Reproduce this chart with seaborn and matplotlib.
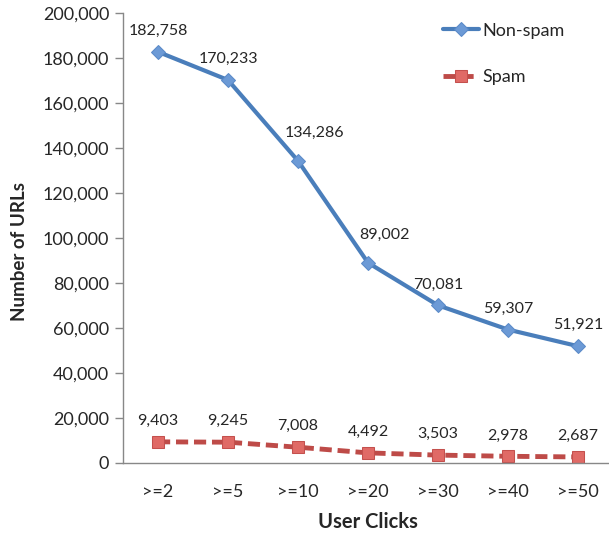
import numpy as np
import pandas as pd
import matplotlib
matplotlib.use("Agg")
import matplotlib.pyplot as plt
import seaborn as sns
from matplotlib.ticker import FuncFormatter, FixedLocator

# data
clicks = [">=2", ">=5", ">=10", ">=20", ">=30", ">=40", ">=50"]
nonspam = [182758, 170233, 134286, 89002, 70081, 59307, 51921]
spam = [9403, 9245, 7008, 4492, 3503, 2978, 2687]

df = pd.DataFrame({
    "clicks": clicks * 2,
    "pos": list(range(len(clicks))) * 2,
    "urls": nonspam + spam,
    "kind": ["Non-spam"] * len(clicks) + ["Spam"] * len(clicks),
})

sns.set_style("white")
plt.rcParams['font.family'] = ['Lato', 'DejaVu Sans']

fig = plt.figure(figsize=(6.09, 5.35), dpi=100)
ax = fig.add_axes([0.202, 0.1346, 0.8046, 0.841])

blue = "#4A7EBB"
red = "#BE4B48"

sns.lineplot(data=df[df.kind == "Non-spam"], x="pos", y="urls", ax=ax,
             color=blue, lw=3, marker="D", markersize=7,
             markerfacecolor="#6C9AD6", markeredgecolor="#5A8AC8",
             label="Non-spam")
sns.lineplot(data=df[df.kind == "Spam"], x="pos", y="urls", ax=ax,
             color=red, lw=3.5, marker="s", markersize=9,
             markerfacecolor="#E06A66", markeredgecolor="#C4504D",
             linestyle=(0, (2.5, 1.2)), label="Spam")

# data labels (the steep ones sit up and to the right of the line)
for i, v in enumerate(nonspam):
    off = (12, 20) if i in (2, 3) else (0, 15)
    ax.annotate(f"{v:,}", (i, v), xytext=off, textcoords="offset points",
                ha="center", va="center", fontsize=11.5)
for i, v in enumerate(spam):
    ax.annotate(f"{v:,}", (i, v), xytext=(0, 15), textcoords="offset points",
                ha="center", va="center", fontsize=11.5)

ax.set_xlim(-0.5, len(clicks) - 0.5)
ax.set_ylim(0, 200000)
ax.set_yticks(np.arange(0, 200001, 20000))
ax.yaxis.set_major_formatter(FuncFormatter(lambda v, p: f"{int(v):,}"))
ax.set_xticks(range(len(clicks)))
ax.set_xticklabels(clicks)
ax.xaxis.set_minor_locator(FixedLocator(np.arange(-0.5, len(clicks), 1.0)))
ax.tick_params(axis="x", which="major", length=0, pad=15, labelsize=13)
ax.tick_params(axis="x", which="minor", length=6, color="#888888", width=1)
ax.tick_params(axis="y", length=6, color="#888888", width=1, labelsize=13, pad=4, left=True)

for s in ["top", "right"]:
    ax.spines[s].set_visible(False)
for s in ["left", "bottom"]:
    ax.spines[s].set_color("#888888")
    ax.spines[s].set_linewidth(1)

ax.set_xlabel("User Clicks", fontsize=14.5, fontweight="bold", labelpad=9)
ax.set_ylabel("Number of URLs", fontsize=13.5, fontweight="bold")
ax.yaxis.set_label_coords(-0.194, 0.47)

ax.legend(loc="upper left", bbox_to_anchor=(0.62, 1.015), frameon=False,
          fontsize=13, handlelength=2.0, labelspacing=1.7, handletextpad=0.2)

fig.savefig("out.png", dpi=100)
